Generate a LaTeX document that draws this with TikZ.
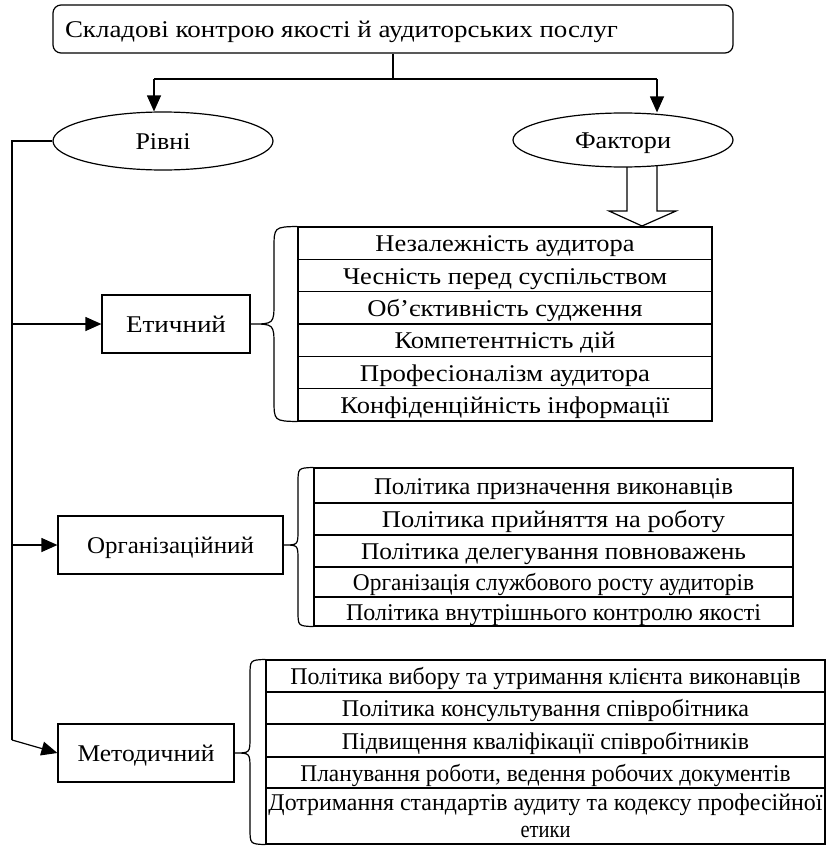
\documentclass[tikz,border=0pt]{standalone}
\usepackage{fontspec}
\setmainfont{Liberation Serif}
\usepackage{graphicx}
\usetikzlibrary{arrows.meta,shapes.geometric}
\newcommand{\fw}[2]{\resizebox{#1pt}{\height}{#2}}
\begin{document}
\begin{tikzpicture}[x=1pt,y=-1pt,line width=1.2pt,
  font=\fontsize{24}{27}\selectfont,
  tx/.style={text height=17.5pt,text depth=0pt},
  arr/.style={-{Triangle[length=16pt,width=14pt]}},
  cell/.style={draw,rectangle,inner sep=0pt,line width=1.1pt},
  lvl/.style={draw,rectangle,inner sep=0pt,minimum height=58pt,tx},
  oval/.style={draw,ellipse,inner sep=0pt,minimum width=220pt,minimum height=56pt,tx}]
\useasboundingbox (0,0) rectangle (829,851);

% title
\node[draw,rounded corners=8pt,minimum width=680pt,minimum height=48pt,inner sep=0pt,tx] (top) at (393,29)
  {\makebox[656pt][l]{\fw{553}{Складові контрою якості й аудиторських послуг}}};

% ellipses
\node[oval,minimum height=58pt] (rivni) at (163,141) {\fw{55}{Рівні}};
\node[oval,minimum height=54pt] (faktory) at (623,140) {\fw{96}{Фактори}};

% split connector
\coordinate (hl) at (154,79);
\coordinate (hr) at (657,79);
\draw (top.south) -- (top.south |- hl);
\draw (hl) -- (hr);
\draw[arr] (hl) -- (hl |- rivni.north);
\draw[arr] (hr) -- (hr |- faktory.north);

% level boxes
\node[lvl,minimum width=148pt] (eth) at (176,324) {\fw{100}{Етичний}};
\node[lvl,minimum width=225pt] (org) at (170.5,545) {\fw{167}{Організаційний}};
\node[lvl,minimum width=176pt] (meth) at (146,753) {\fw{137}{Методичний}};

% spine
\coordinate (sp1) at (12,141);
\coordinate (sp2) at (12,740);
\draw (rivni.west) -- (sp1) -- (sp2);
\draw[arr] (sp1 |- eth.west) -- (eth.west);
\draw[arr] (sp1 |- org.west) -- (org.west);
\draw[arr] (sp2) -- (meth.west);

% ethical table
\foreach \i/\t/\w in {1/{Незалежність аудитора}/259,
                      2/{Чесність перед суспільством}/324,
                      3/{Об’єктивність судження}/275,
                      4/{Компетентність дій}/221,
                      5/{Професіоналізм аудитора}/290,
                      6/{Конфіденційність інформації}/329}
  \node[cell,tx,minimum width=414pt,minimum height=32.33pt] (e\i) at (505,{227+32.33*(\i-0.5)}) {\fw{\w}{\t}};

% organisational table
\foreach \i/\y/\h/\t/\w in {1/485.5/35/{Політика призначення виконавців}/359,
                            2/519/32/{Політика прийняття на роботу}/343,
                            3/551/32/{Політика делегування повноважень}/385,
                            4/582/30/{Організація службового росту аудиторів}/401,
                            5/611.5/29/{Політика внутрішнього контролю якості}/415}
  \node[cell,tx,minimum width=479pt,minimum height=\h pt] (o\i) at (553.5,\y) {\fw{\w}{\t}};

% methodical table
\foreach \i/\y/\h/\t/\w in {1/676/32/{Політика вибору та утримання клієнта виконавців}/510,
                            2/708/32/{Політика консультування співробітника}/407,
                            3/740.5/33/{Підвищення кваліфікації співробітників}/407,
                            4/772.5/31/{Планування роботи, ведення робочих документів}/490}
  \node[cell,tx,minimum width=559pt,minimum height=\h pt] (m\i) at (545.5,\y) {\fw{\w}{\t}};
\node[cell,minimum width=559pt,minimum height=56pt,align=center] (m5) at (545.5,816)
  {\fw{554}{Дотримання стандартів аудиту та кодексу професійної}\\\fw{50}{етики}};

% factor arrow (hollow)
\draw (627,167) -- (627,211) -- (609,211) -- (642,226) -- (676,211) -- (657,211) -- (657,166);

% braces
\draw (e1.north west) .. controls (274,227) .. (274,249) -- (274,302)
      .. controls (274,324) .. (eth.east) .. controls (274,324) .. (274,346)
      -- (274,399) .. controls (274,421) .. (e6.south west);
\draw (o1.north west) .. controls (298,468) .. (298,483) -- (298,530)
      .. controls (298,545) .. (org.east) .. controls (298,545) .. (298,560)
      -- (298,611) .. controls (298,626) .. (o5.south west);
\draw (m1.north west) .. controls (250,660) .. (250,676) -- (250,737)
      .. controls (250,753) .. (meth.east) .. controls (250,753) .. (250,769)
      -- (250,828) .. controls (250,844) .. (m5.south west);
\end{tikzpicture}
\end{document}
